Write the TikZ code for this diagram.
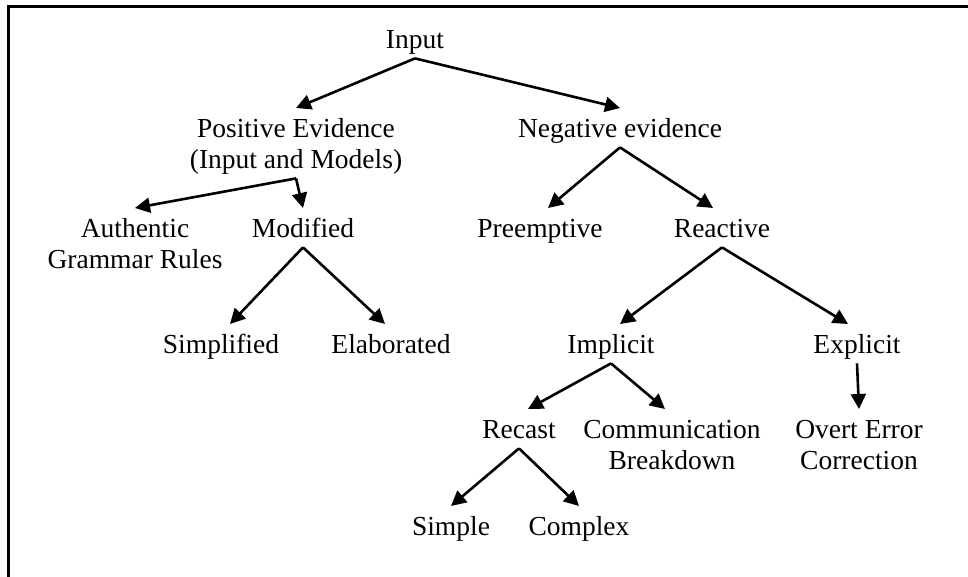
\documentclass[tikz,border=0pt]{standalone}
\usepackage{fontspec}
\setmainfont{Liberation Serif}
\usetikzlibrary{arrows.meta}
\newcommand{\tallline}{\rule{0pt}{29pt}}

\begin{document}
\begin{tikzpicture}[
  x=1pt, y=-1pt,
  >={Triangle[length=15pt,width=15pt]},
  term/.style={anchor=north, align=center, inner sep=0pt,
    font=\fontsize{27.5}{31}\selectfont,
    execute at begin node=\tallline,
    execute at end node=\rule[-10pt]{0pt}{10pt}},
  arr/.style={->, line width=2.6pt},
  frame/.style={line width=3pt}
]
\useasboundingbox (0,0) rectangle (968,577);
\draw[frame] (8.7,577) -- (8.7,6.7) -- (968,6.7);

% top levels
\node[term] (input) at (415,19) {Input};
\node[term] (pos) at (296,108) {\tallline Positive Evidence\\(Input and Models)};
\node[term] (neg) at (620,108) {Negative evidence};
\node[term] (auth) at (135,208) {\tallline Authentic\\Grammar Rules};
\node[term] (mod) at (303,208) {Modified};
\node[term] (pre) at (540,208) {Preemptive};
\node[term] (reac) at (722,208) {Reactive};
\node[term] (simpl) at (221,324) {Simplified};
\node[term] (elab) at (391,324) {Elaborated};
\node[term] (impl) at (611,324) {Implicit};
\node[term] (expl) at (857,324) {Explicit};
\node[term] (recast) at (519,409) {Recast};
\node[term] (comm) at (672,409) {\tallline Communication\\Breakdown};
\node[term] (overt) at (859,409) {\tallline Overt Error\\Correction};
\node[term] (simple) at (451,506) {Simple};
\node[term] (complex) at (579,506) {Complex};

% connectors
\draw[arr] (input.south) -- (pos.north);
\draw[arr] (input.south) -- (neg.north);
\draw[arr] (pos.south) -- (auth.north);
\draw[arr] (pos.south) -- (mod.north);
\draw[arr] (mod.south) -- ([xshift=9pt]simpl.north);
\draw[arr] (mod.south) -- ([xshift=-6pt]elab.north);
\draw[arr] (neg.south) -- ([xshift=8pt]pre.north);
\draw[arr] (neg.south) -- ([xshift=-9pt]reac.north);
\draw[arr] (reac.south) -- ([xshift=9pt]impl.north);
\draw[arr] (reac.south) -- ([xshift=-9pt]expl.north);
\draw[arr] (impl.south) -- ([xshift=9pt]recast.north);
\draw[arr] (impl.south) -- ([xshift=-7pt]comm.north);
\draw[arr] (expl.south) -- (overt.north);
\draw[arr] (recast.south) -- (simple.north);
\draw[arr] (recast.south) -- (complex.north);
\end{tikzpicture}
\end{document}
